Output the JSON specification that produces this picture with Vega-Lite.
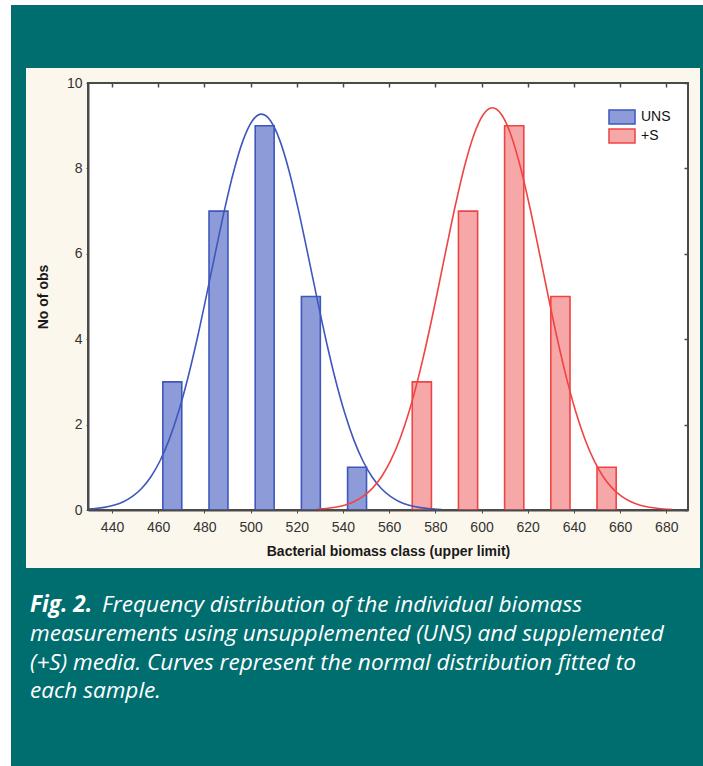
{
  "$schema": "https://vega.github.io/schema/vega-lite/v6.json",
  "width": 600,
  "height": 427,
  "autosize": {"type": "none"},
  "padding": {"left": 88, "top": 83, "right": 15, "bottom": 256},
  "background": "#ffffff",
  "config": {"view": {"stroke": null}, "font": "Liberation Sans"},
  "title": {
    "text": [
      "measurements using unsupplemented (UNS) and supplemented",
      "(+S) media. Curves represent the normal distribution fitted to",
      "each sample."
    ],
    "orient": "top",
    "anchor": "start",
    "frame": "group",
    "baseline": "top",
    "dx": -58,
    "dy": 698,
    "offset": 0,
    "font": "Open Sans",
    "fontStyle": "italic",
    "fontWeight": "normal",
    "fontSize": 22.6,
    "lineHeight": 28.8,
    "color": "#ffffff"
  },
  "datasets": {
    "bars": [
      {"group": "UNS", "lo": 462, "hi": 470.2, "count": 3},
      {"group": "UNS", "lo": 482, "hi": 490.2, "count": 7},
      {"group": "UNS", "lo": 502, "hi": 510.2, "count": 9},
      {"group": "UNS", "lo": 522, "hi": 530.2, "count": 5},
      {"group": "UNS", "lo": 542, "hi": 550.2, "count": 1},
      {"group": "+S", "lo": 570, "hi": 578.3, "count": 3},
      {"group": "+S", "lo": 590, "hi": 598.3, "count": 7},
      {"group": "+S", "lo": 610, "hi": 618.3, "count": 9},
      {"group": "+S", "lo": 630, "hi": 638.3, "count": 5},
      {"group": "+S", "lo": 650, "hi": 658.3, "count": 1}
    ],
    "curves": [
      {"group": "UNS", "x": 428.7, "y": 0.018},
      {"group": "UNS", "x": 432.7, "y": 0.034},
      {"group": "UNS", "x": 436.7, "y": 0.062},
      {"group": "UNS", "x": 440.7, "y": 0.110},
      {"group": "UNS", "x": 444.7, "y": 0.189},
      {"group": "UNS", "x": 448.7, "y": 0.312},
      {"group": "UNS", "x": 452.7, "y": 0.498},
      {"group": "UNS", "x": 456.7, "y": 0.767},
      {"group": "UNS", "x": 460.7, "y": 1.142},
      {"group": "UNS", "x": 464.7, "y": 1.642},
      {"group": "UNS", "x": 468.7, "y": 2.282},
      {"group": "UNS", "x": 472.7, "y": 3.062},
      {"group": "UNS", "x": 476.7, "y": 3.970},
      {"group": "UNS", "x": 480.7, "y": 4.972},
      {"group": "UNS", "x": 484.7, "y": 6.014},
      {"group": "UNS", "x": 488.7, "y": 7.028},
      {"group": "UNS", "x": 492.7, "y": 7.933},
      {"group": "UNS", "x": 496.7, "y": 8.650},
      {"group": "UNS", "x": 500.7, "y": 9.111},
      {"group": "UNS", "x": 504.7, "y": 9.270},
      {"group": "UNS", "x": 508.7, "y": 9.111},
      {"group": "UNS", "x": 512.7, "y": 8.650},
      {"group": "UNS", "x": 516.7, "y": 7.933},
      {"group": "UNS", "x": 520.7, "y": 7.028},
      {"group": "UNS", "x": 524.7, "y": 6.014},
      {"group": "UNS", "x": 528.7, "y": 4.972},
      {"group": "UNS", "x": 532.7, "y": 3.970},
      {"group": "UNS", "x": 536.7, "y": 3.062},
      {"group": "UNS", "x": 540.7, "y": 2.282},
      {"group": "UNS", "x": 544.7, "y": 1.642},
      {"group": "UNS", "x": 548.7, "y": 1.142},
      {"group": "UNS", "x": 552.7, "y": 0.767},
      {"group": "UNS", "x": 556.7, "y": 0.498},
      {"group": "UNS", "x": 560.7, "y": 0.312},
      {"group": "UNS", "x": 564.7, "y": 0.189},
      {"group": "UNS", "x": 568.7, "y": 0.110},
      {"group": "UNS", "x": 572.7, "y": 0.062},
      {"group": "UNS", "x": 576.7, "y": 0.034},
      {"group": "UNS", "x": 580.7, "y": 0.018},
      {"group": "UNS", "x": 582.7, "y": 0.013},
      {"group": "+S", "x": 528.7, "y": 0.018},
      {"group": "+S", "x": 532.7, "y": 0.035},
      {"group": "+S", "x": 536.7, "y": 0.063},
      {"group": "+S", "x": 540.7, "y": 0.112},
      {"group": "+S", "x": 544.7, "y": 0.192},
      {"group": "+S", "x": 548.7, "y": 0.317},
      {"group": "+S", "x": 552.7, "y": 0.506},
      {"group": "+S", "x": 556.7, "y": 0.779},
      {"group": "+S", "x": 560.7, "y": 1.160},
      {"group": "+S", "x": 564.7, "y": 1.669},
      {"group": "+S", "x": 568.7, "y": 2.319},
      {"group": "+S", "x": 572.7, "y": 3.112},
      {"group": "+S", "x": 576.7, "y": 4.034},
      {"group": "+S", "x": 580.7, "y": 5.052},
      {"group": "+S", "x": 584.7, "y": 6.112},
      {"group": "+S", "x": 588.7, "y": 7.142},
      {"group": "+S", "x": 592.7, "y": 8.061},
      {"group": "+S", "x": 596.7, "y": 8.790},
      {"group": "+S", "x": 600.7, "y": 9.258},
      {"group": "+S", "x": 604.7, "y": 9.420},
      {"group": "+S", "x": 608.7, "y": 9.258},
      {"group": "+S", "x": 612.7, "y": 8.790},
      {"group": "+S", "x": 616.7, "y": 8.061},
      {"group": "+S", "x": 620.7, "y": 7.142},
      {"group": "+S", "x": 624.7, "y": 6.112},
      {"group": "+S", "x": 628.7, "y": 5.052},
      {"group": "+S", "x": 632.7, "y": 4.034},
      {"group": "+S", "x": 636.7, "y": 3.112},
      {"group": "+S", "x": 640.7, "y": 2.319},
      {"group": "+S", "x": 644.7, "y": 1.669},
      {"group": "+S", "x": 648.7, "y": 1.160},
      {"group": "+S", "x": 652.7, "y": 0.779},
      {"group": "+S", "x": 656.7, "y": 0.506},
      {"group": "+S", "x": 660.7, "y": 0.317},
      {"group": "+S", "x": 664.7, "y": 0.192},
      {"group": "+S", "x": 668.7, "y": 0.112},
      {"group": "+S", "x": 672.7, "y": 0.063},
      {"group": "+S", "x": 676.7, "y": 0.035},
      {"group": "+S", "x": 680.7, "y": 0.018},
      {"group": "+S", "x": 682.7, "y": 0.013}
    ]
  },
  "resolve": {"axis": {"x": "independent", "y": "independent"}},
  "layer": [
    {
      "data": {"values": [{}]},
      "mark": {"type": "rect", "fill": "#006e6f"},
      "encoding": {"x": {"value": -77}, "x2": {"value": 615}, "y": {"value": -78}, "y2": {"value": 683}}
    },
    {
      "data": {"values": [{}]},
      "mark": {"type": "rect", "fill": "#fcf7ec"},
      "encoding": {"x": {"value": -62}, "x2": {"value": 612}, "y": {"value": -15}, "y2": {"value": 485}}
    },
    {
      "data": {"values": [{}]},
      "mark": {"type": "rect", "fill": "#ffffff", "stroke": "#4a4a4a", "strokeWidth": 2},
      "encoding": {"x": {"value": 0}, "x2": {"value": 600}, "y": {"value": 0}, "y2": {"value": 427}}
    },
    {
      "data": {"name": "bars"},
      "mark": {"type": "rect", "strokeWidth": 1.6},
      "encoding": {
        "x": {
          "field": "lo", "type": "quantitative",
          "scale": {"domain": [429.6, 689.4], "nice": false, "zero": false},
          "axis": {
            "values": [440, 460, 480, 500, 520, 540, 560, 580, 600, 620, 640, 660, 680],
            "title": "Bacterial biomass class (upper limit)",
            "grid": false, "zindex": 2,
            "labelFont": "Liberation Sans", "labelFontSize": 14, "labelColor": "#333333",
            "titleFont": "Liberation Sans", "titleFontSize": 14, "titleFontWeight": "bold", "titleColor": "#1a1a1a",
            "domainColor": "#4a4a4a", "domainWidth": 2, "tickColor": "#4a4a4a", "tickSize": 3,
            "labelPadding": 7, "titlePadding": 10
          }
        },
        "x2": {"field": "hi"},
        "y": {
          "field": "count", "type": "quantitative",
          "scale": {"domain": [0, 10], "nice": false},
          "axis": {
            "values": [0, 2, 4, 6, 8, 10],
            "title": "No of obs",
            "grid": false, "zindex": 2,
            "labelFont": "Liberation Sans", "labelFontSize": 14, "labelColor": "#333333",
            "titleFont": "Liberation Sans", "titleFontSize": 14, "titleFontWeight": "bold", "titleColor": "#1a1a1a",
            "domainColor": "#4a4a4a", "domainWidth": 2, "tickColor": "#4a4a4a", "tickSize": 2,
            "labelPadding": 4, "titlePadding": 16
          }
        },
        "y2": {"datum": 0},
        "fill": {
          "field": "group", "type": "nominal",
          "scale": {"domain": ["UNS", "+S"], "range": ["#8d9cd8", "#f6a8a8"]},
          "legend": {
            "orient": "none", "legendX": 526, "legendY": 26, "title": null,
            "symbolType": "M-1.86,-1H1.86V1H-1.86Z", "symbolSize": 196, "symbolStrokeWidth": 1.5,
            "labelFont": "Liberation Sans", "labelFontSize": 14, "labelColor": "#111111", "labelOffset": 11,
            "rowPadding": -1
          }
        },
        "stroke": {
          "field": "group", "type": "nominal",
          "scale": {"domain": ["UNS", "+S"], "range": ["#3f57bd", "#ef4444"]}
        }
      }
    },
    {
      "data": {"name": "curves"},
      "mark": {"type": "line", "strokeWidth": 1.6, "interpolate": "monotone", "clip": true},
      "encoding": {
        "x": {
          "field": "x", "type": "quantitative",
          "axis": {
            "orient": "top", "values": [440, 460, 480, 500, 520, 540, 560, 580, 600, 620, 640, 660, 680],
            "labels": false, "title": null, "domain": false, "grid": false, "zindex": 2,
            "tickColor": "#4a4a4a", "tickSize": -4, "tickWidth": 1.5
          }
        },
        "y": {
          "field": "y", "type": "quantitative",
          "axis": {
            "orient": "right", "values": [0, 2, 4, 6, 8, 10],
            "labels": false, "title": null, "domain": false, "grid": false, "zindex": 2,
            "tickColor": "#4a4a4a", "tickSize": -4, "tickWidth": 1.5
          }
        },
        "stroke": {"field": "group", "type": "nominal", "legend": null}
      }
    },
    {
      "data": {"values": [{}]},
      "mark": {"type": "text", "text": "Fig. 2.", "font": "Open Sans", "fontStyle": "italic", "fontWeight": "bold", "fontSize": 22.6, "color": "#ffffff", "align": "left", "baseline": "alphabetic"},
      "encoding": {"x": {"value": -58}, "y": {"value": 529}}
    },
    {
      "data": {"values": [{}]},
      "mark": {"type": "text", "text": "Frequency distribution of the individual biomass", "font": "Open Sans", "fontStyle": "italic", "fontWeight": "normal", "fontSize": 22.6, "color": "#ffffff", "align": "left", "baseline": "alphabetic"},
      "encoding": {"x": {"value": 14}, "y": {"value": 529}}
    }
  ]
}
